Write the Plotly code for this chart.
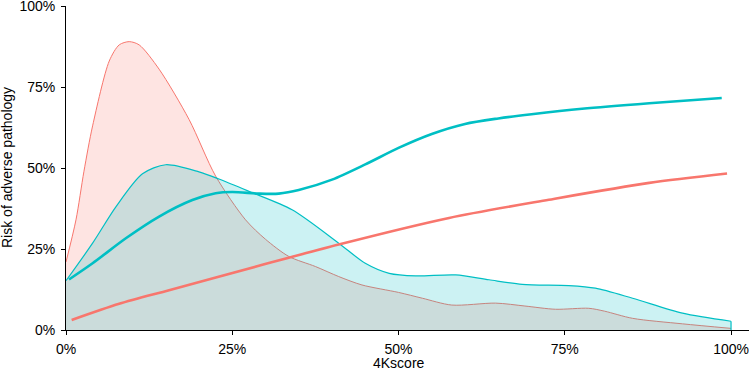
import plotly.graph_objects as go

# Density of 4Kscore (scaled to %), group without adverse pathology (red)
dens_red_x = [0, 1.5, 2.7, 4, 6.5, 8, 9.5, 11, 14, 18.5, 22.5, 27, 30, 33.5, 37.5, 41, 44.5, 50, 53.6, 58, 64.6, 69, 73.6, 78.6, 81, 85.2, 92.7, 100]
dens_red_y = [21, 34, 49, 63, 83, 88, 89, 88, 80.5, 65, 47.5, 34, 28, 22.7, 19.6, 16.5, 13.9, 11.6, 9.8, 7.7, 8.3, 7.4, 6.4, 6.7, 5.8, 3.6, 1.9, 0.5]

# Density, group with adverse pathology (cyan)
dens_cyan_x = [0, 4, 7.5, 11.5, 15, 20, 23, 27.5, 34, 41, 45, 48.6, 52.6, 58.6, 63.6, 68.6, 75.6, 79.6, 85.2, 92.7, 100]
dens_cyan_y = [15.2, 26.8, 38, 48.2, 51, 48.8, 46.6, 42.8, 37.1, 26.8, 20.6, 17.5, 16.7, 17, 15.5, 14.1, 13.7, 12.9, 9.8, 5.2, 2.7]

# Risk curves
risk_cyan_x = [0.45, 4, 9, 14, 19, 22.5, 25, 29, 32, 35, 40, 45, 50, 55, 60, 65, 70, 77.6, 87.7, 98.6]
risk_cyan_y = [15.6, 20.6, 28.3, 35, 40.1, 42.2, 42.6, 42.1, 42.1, 43.2, 46.4, 51.1, 56.2, 60.5, 63.6, 65.3, 66.6, 68.3, 70, 71.6]

risk_red_x = [0.85, 8, 15.5, 29, 41, 57.6, 72.6, 87.7, 99.4]
risk_red_y = [3.1, 8.1, 12.3, 19.8, 26.4, 34.6, 40.2, 45.4, 48.3]

tick_vals = [0, 25, 50, 75, 100]
tick_text = ["0%", "25%", "50%", "75%", "100%"]

RED = "#F8766D"
CYAN = "#00BFC4"
FONT = "Liberation Sans, Arial, sans-serif"
FS = 14

fig = go.Figure()
fig.add_trace(go.Scatter(x=dens_red_x, y=dens_red_y, mode="lines", line=dict(color=RED, width=1, shape="spline", smoothing=0.8),
                         fill="tozeroy", fillcolor="rgba(248,118,109,0.2)", hoverinfo="skip"))
fig.add_trace(go.Scatter(x=dens_cyan_x, y=dens_cyan_y, mode="lines", line=dict(color=CYAN, width=1.2, shape="spline", smoothing=0.8),
                         fill="tozeroy", fillcolor="rgba(0,191,196,0.2)", hoverinfo="skip"))
fig.add_trace(go.Scatter(x=[dens_cyan_x[-1], dens_cyan_x[-1]], y=[dens_cyan_y[-1], 0], mode="lines",
                         line=dict(color=CYAN, width=1.2), hoverinfo="skip"))
fig.add_trace(go.Scatter(x=risk_red_x, y=risk_red_y, mode="lines", line=dict(color=RED, width=2.6, shape="spline", smoothing=0.8)))
fig.add_trace(go.Scatter(x=risk_cyan_x, y=risk_cyan_y, mode="lines", line=dict(color=CYAN, width=2.6, shape="spline", smoothing=0.8)))

axis_common = dict(showgrid=False, zeroline=False, showline=True, linecolor="black", linewidth=1,
                   ticks="outside", ticklen=4, tickcolor="black", tickwidth=1, automargin=False,
                   ticklabeloverflow="allow",
                   tickvals=tick_vals, ticktext=tick_text,
                   tickfont=dict(family=FONT, size=FS, color="black"))

fig.update_layout(
    width=749, height=371,
    margin=dict(l=66, r=0, t=6, b=41),
    paper_bgcolor="white", plot_bgcolor="white",
    showlegend=False,
    font=dict(family=FONT, size=FS, color="black"),
    xaxis=dict(range=[0, 102.7], ticklabelstandoff=2, **axis_common),
    yaxis=dict(range=[0, 100], ticklabelstandoff=3, **axis_common),
    annotations=[
        dict(text="4Kscore", xref="paper", yref="paper", x=100 / 102.7 / 2, y=-33.5 / 324,
             xanchor="center", yanchor="middle", showarrow=False, font=dict(family=FONT, size=FS, color="black")),
        dict(text="Risk of adverse pathology", xref="paper", yref="paper", x=-59 / 683, y=0.5, textangle=-90,
             xanchor="center", yanchor="middle", showarrow=False, font=dict(family=FONT, size=FS, color="black")),
    ],
)

fig.write_html("out.html", config={"displayModeBar": False},
               post_script="document.body.style.margin='0px';document.body.style.overflow='hidden';")
